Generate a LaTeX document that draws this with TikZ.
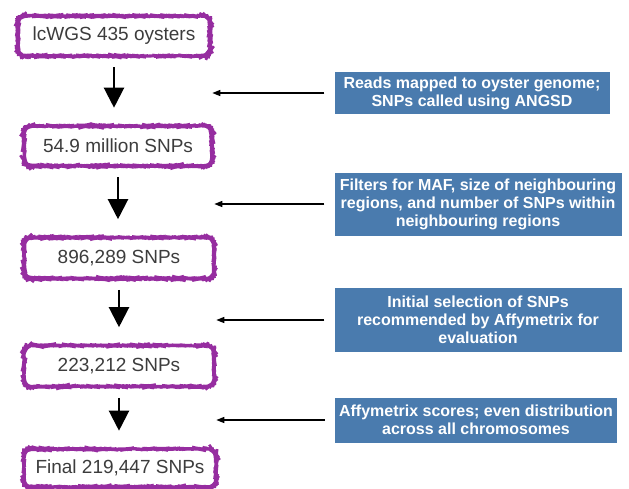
\documentclass[tikz,border=0pt]{standalone}
\usepackage{fontspec}
\setmainfont{Liberation Sans}
\usetikzlibrary{arrows.meta,decorations.pathmorphing}

\definecolor{crayon}{RGB}{150,45,160}
\definecolor{stepblue}{RGB}{74,123,174}
\definecolor{ink}{RGB}{60,60,60}

\tikzset{
  count/.style={draw=crayon, line width=2.6pt, rounded corners=8pt,
    decorate, decoration={random steps, segment length=2pt, amplitude=0.35pt},
    text=ink, font=\fontsize{19}{21}\selectfont, inner sep=0pt},
  note/.style={fill=stepblue, text=white, align=center, inner sep=0pt,
    font=\fontsize{16}{18}\selectfont\bfseries},
  down/.style={-{Triangle[width=20pt,length=20pt]}, line width=2.2pt,
    shorten <=10pt, shorten >=17pt},
  side/.style={-{Triangle[width=6pt,length=8pt]}, line width=1.3pt,
    shorten <=10pt, shorten >=1pt}
}

\begin{document}
\begin{tikzpicture}[x=1pt,y=-1pt]
    \useasboundingbox (0,0) rectangle (629,488);

    \node[count, minimum width=192pt, minimum height=40pt] (wgs)  at (114,36)  {lcWGS 435 oysters};
    \node[count, minimum width=188pt, minimum height=40pt] (raw)  at (118,146) {54.9 million SNPs};
    \node[count, minimum width=190pt, minimum height=41pt] (filt) at (119,258) {896,289 SNPs};
    \node[count, minimum width=190pt, minimum height=41pt] (sel)  at (119,366) {223,212 SNPs};
    \node[count, minimum width=192pt, minimum height=38pt] (fin)  at (120,468) {Final 219,447 SNPs};

    \node[note, minimum width=275pt, minimum height=42pt] (map)   at (472,93)  {Reads mapped to oyster genome;\\SNPs called using ANGSD};
    \node[note, minimum width=287pt, minimum height=63pt] (maf)   at (478,204) {Filters for MAF, size of neighbouring\\regions, and number of SNPs within\\neighbouring regions};
    \node[note, minimum width=287pt, minimum height=64pt] (affy)  at (478,320) {Initial selection of SNPs\\recommended by Affymetrix for\\evaluation};
    \node[note, minimum width=282pt, minimum height=45pt] (score) at (476,420) {Affymetrix scores; even distribution\\across all chromosomes};

    \path[down] (wgs.south)  edge (wgs.south |- raw.north)
                (raw.south)  edge (raw.south |- filt.north)
                (filt.south) edge (filt.south |- sel.north)
                (sel.south)  edge (sel.south |- fin.north)
                ;
    \path[side] (map.west)   edge (map.west -| wgs.east)
                (maf.west)   edge (maf.west -| raw.east)
                (affy.west)  edge (affy.west -| filt.east)
                (score.west) edge (score.west -| sel.east)
                ;
\end{tikzpicture}
\end{document}
